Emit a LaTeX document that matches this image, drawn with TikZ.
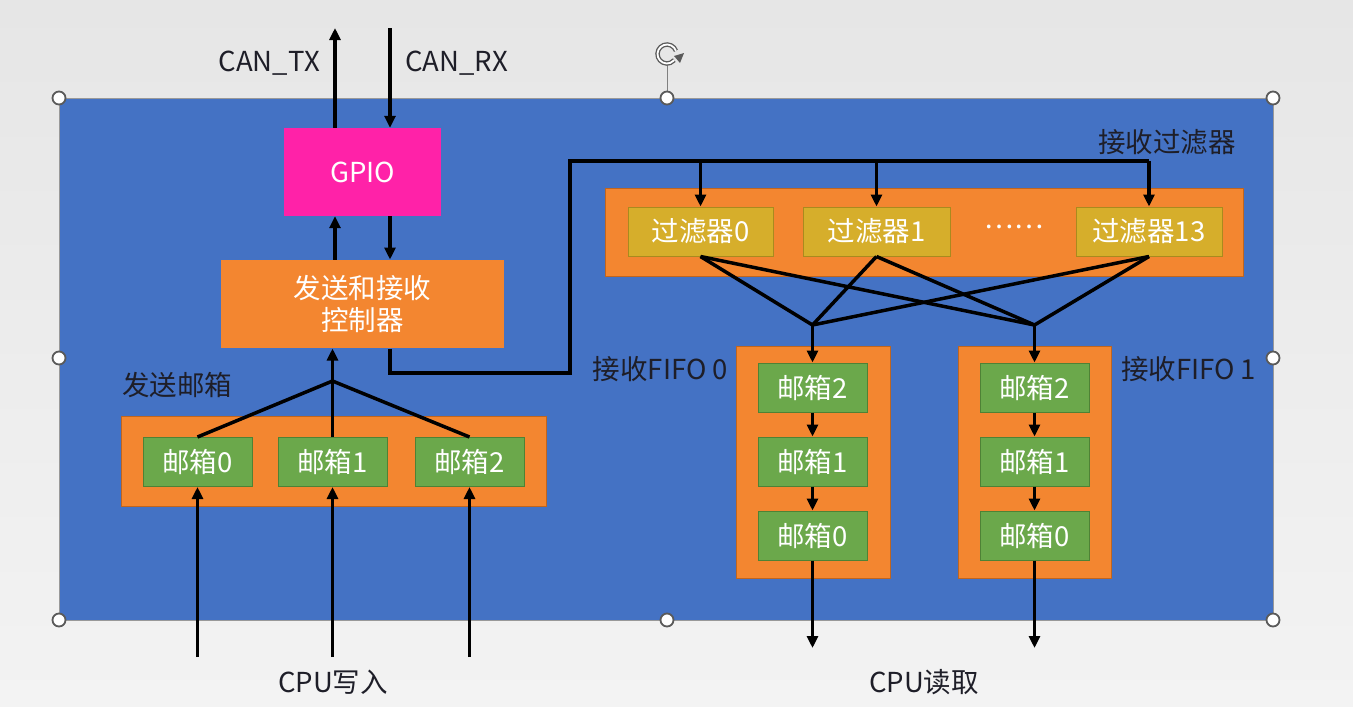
\documentclass[tikz,border=0pt]{standalone}
\usepackage{fontspec}
\setmainfont{Noto Sans CJK SC}
\usetikzlibrary{arrows.meta}
\definecolor{panelblue}{HTML}{4472C4}
\definecolor{boxorange}{HTML}{F38630}
\definecolor{orangeedge}{HTML}{C0651E}
\definecolor{boxgreen}{HTML}{6BA84B}
\definecolor{greenedge}{HTML}{4E8235}
\definecolor{boxgold}{HTML}{D6AE2B}
\definecolor{goldedge}{HTML}{A98A1E}
\definecolor{gpiopink}{HTML}{FF22A8}
\definecolor{darktext}{HTML}{1E1E28}
\definecolor{bgtop}{HTML}{E6E6E6}
\definecolor{bgbot}{HTML}{F3F3F3}
\definecolor{handlegray}{HTML}{5A5A5A}
\newcommand\lblfont{\fontsize{27.5}{32}\selectfont}
\tikzset{
  boxbase/.style={inner sep=0pt, font=\lblfont, text=white, align=center},
  container/.style={boxbase, fill=boxorange, draw=orangeedge, line width=1pt},
  mailbox/.style={boxbase, fill=boxgreen, draw=greenedge, line width=1pt, minimum width=109pt, minimum height=49pt},
  filterbox/.style={boxbase, fill=boxgold, draw=goldedge, line width=1pt, minimum height=49pt},
  label/.style={inner sep=0pt, font=\lblfont, text=darktext},
  wire/.style={line width=3.5pt, black, line join=miter},
  arr/.style={wire, -{Triangle[length=12pt,width=11pt]}},
  handle/.style={circle, fill=white, draw=handlegray, line width=1.8pt, minimum size=13pt, inner sep=0pt},
}
\begin{document}
\begin{tikzpicture}[x=1pt,y=-1pt]
\useasboundingbox (0,0) rectangle (1353,707);
\shade[top color=bgtop, bottom color=bgbot] (0,0) rectangle (1353,707);
% panel
\fill[panelblue] (59,98) rectangle (1273,620);
\draw[gray!80, line width=1pt] (59,98) rectangle (1273,620);

% coordinates
\coordinate (txtop) at (335,28);
\coordinate (rxtop) at (390,28);
\coordinate (jtx) at (332.5,381);
\coordinate (jA) at (812.5,325);
\coordinate (jB) at (1034.5,325);
\coordinate (busL) at (570,373);
\coordinate (busT) at (570,161);
\coordinate (out0) at (812.5,648);
\coordinate (out1) at (1034.5,648);
\coordinate (in0) at (197.5,657);
\coordinate (in1) at (332.5,657);
\coordinate (in2) at (469.5,657);

% GPIO and controller
\node[boxbase, fill=gpiopink, minimum width=157pt, minimum height=88pt] (gpio) at (362.5,172) {GPIO};
\node[container, draw=none, minimum width=283pt, minimum height=88pt] (ctrl) at (362.5,304) {发送和接收\\控制器};

% send mailboxes
\node[container, minimum width=425pt, minimum height=90pt] (txbox) at (333.5,461) {};
\node[mailbox] (tx0) at (197.5,462) {邮箱0};
\node[mailbox] (tx1) at (332.5,462) {邮箱1};
\node[mailbox] (tx2) at (469.5,462) {邮箱2};

% filters
\node[container, minimum width=638pt, minimum height=88pt] (fbox) at (924,232) {};
\node[filterbox, minimum width=145pt] (f0) at (700.5,231.5) {过滤器0};
\node[filterbox, minimum width=147pt] (f1) at (876.5,231.5) {过滤器1};
\node[filterbox, minimum width=146pt] (f13) at (1149,231.5) {过滤器13};
\node[boxbase, text=white] (dots) at (1014,227) {……};

% FIFOs
\node[container, minimum width=154pt, minimum height=232pt] (fifo0) at (813,462) {};
\node[mailbox] (r0m2) at (812.5,387.5) {邮箱2};
\node[mailbox] (r0m1) at (812.5,461.5) {邮箱1};
\node[mailbox] (r0m0) at (812.5,535.5) {邮箱0};
\node[container, minimum width=153pt, minimum height=232pt] (fifo1) at (1034.5,462) {};
\node[mailbox] (r1m2) at (1034.5,387.5) {邮箱2};
\node[mailbox] (r1m1) at (1034.5,461.5) {邮箱1};
\node[mailbox] (r1m0) at (1034.5,535.5) {邮箱0};

% labels
\node[label, anchor=east] (ltx) at (320,63) {CAN\_TX};
\node[label, anchor=west] (lrx) at (405,63) {CAN\_RX};
\node[label] (lfilt) at (1167,142) {接收过滤器};
\node[label] (lsend) at (177,385) {发送邮箱};
\node[label, anchor=east] (lf0) at (728,369) {接收FIFO 0};
\node[label, anchor=west] (lf1) at (1121,369) {接收FIFO 1};
\node[label] (lcpuw) at (333,682) {CPU写入};
\node[label] (lcpur) at (924,682) {CPU读取};

% GPIO connections
\draw[arr] (gpio.north -| txtop) -- (txtop);
\draw[arr] (rxtop) -- (gpio.north -| rxtop);
\draw[arr] (ctrl.north -| txtop) -- (gpio.south -| txtop);
\draw[arr] (gpio.south -| rxtop) -- (ctrl.north -| rxtop);

% bus to filters
\draw[wire] (ctrl.south -| rxtop) |- (busL) -- (busT) -- (busT -| f13);
\draw[arr] (busT -| f0) -- (f0.north);
\draw[arr] (busT -| f1) -- (f1.north);
\draw[arr] (busT -| f13) -- (f13.north);

% filter crossings
\foreach \f in {f0,f1,f13}{
  \draw[wire] (\f.south) -- (jA);
  \draw[wire] (\f.south) -- (jB);
}
\draw[arr] (jA) -- (r0m2.north);
\draw[arr] (jB) -- (r1m2.north);

% FIFO chains
\draw[arr, line width=3pt] (r0m2) -- (r0m1);
\draw[arr, line width=3pt] (r0m1) -- (r0m0);
\draw[arr, line width=3pt] (r1m2) -- (r1m1);
\draw[arr, line width=3pt] (r1m1) -- (r1m0);
\draw[arr] (r0m0.south) -- (out0);
\draw[arr] (r1m0.south) -- (out1);

% send side
\draw[wire] (tx0.north) -- (jtx) -- (tx2.north);
\draw[arr] (tx1.north) -- (ctrl.south -| tx1.north);
\draw[arr] (in0) -- (tx0.south);
\draw[arr] (in1) -- (tx1.south);
\draw[arr] (in2) -- (tx2.south);

% selection handles
\coordinate (rotc) at (667,54);
\draw[gray, line width=1pt] (667,65) -- (667,98);
\draw[handlegray, line width=4.5pt] (rotc) ++(-20:9.5)
  arc[start angle=-20, end angle=-320, radius=9.5];
\draw[white, line width=1.8pt] (rotc) ++(-20:9.5)
  arc[start angle=-20, end angle=-320, radius=9.5];
\fill[handlegray] (674,56) -- (684,53) -- (680,63) -- cycle;
\foreach \p/\n in {{(59,98)}/h1,{(667,98)}/h2,{(1273,98)}/h3,{(59,358)}/h4,{(1273,358)}/h5,{(59,620)}/h6,{(667,620)}/h7,{(1273,620)}/h8}{
  \node[handle] (\n) at \p {};
}
\end{tikzpicture}
\end{document}
